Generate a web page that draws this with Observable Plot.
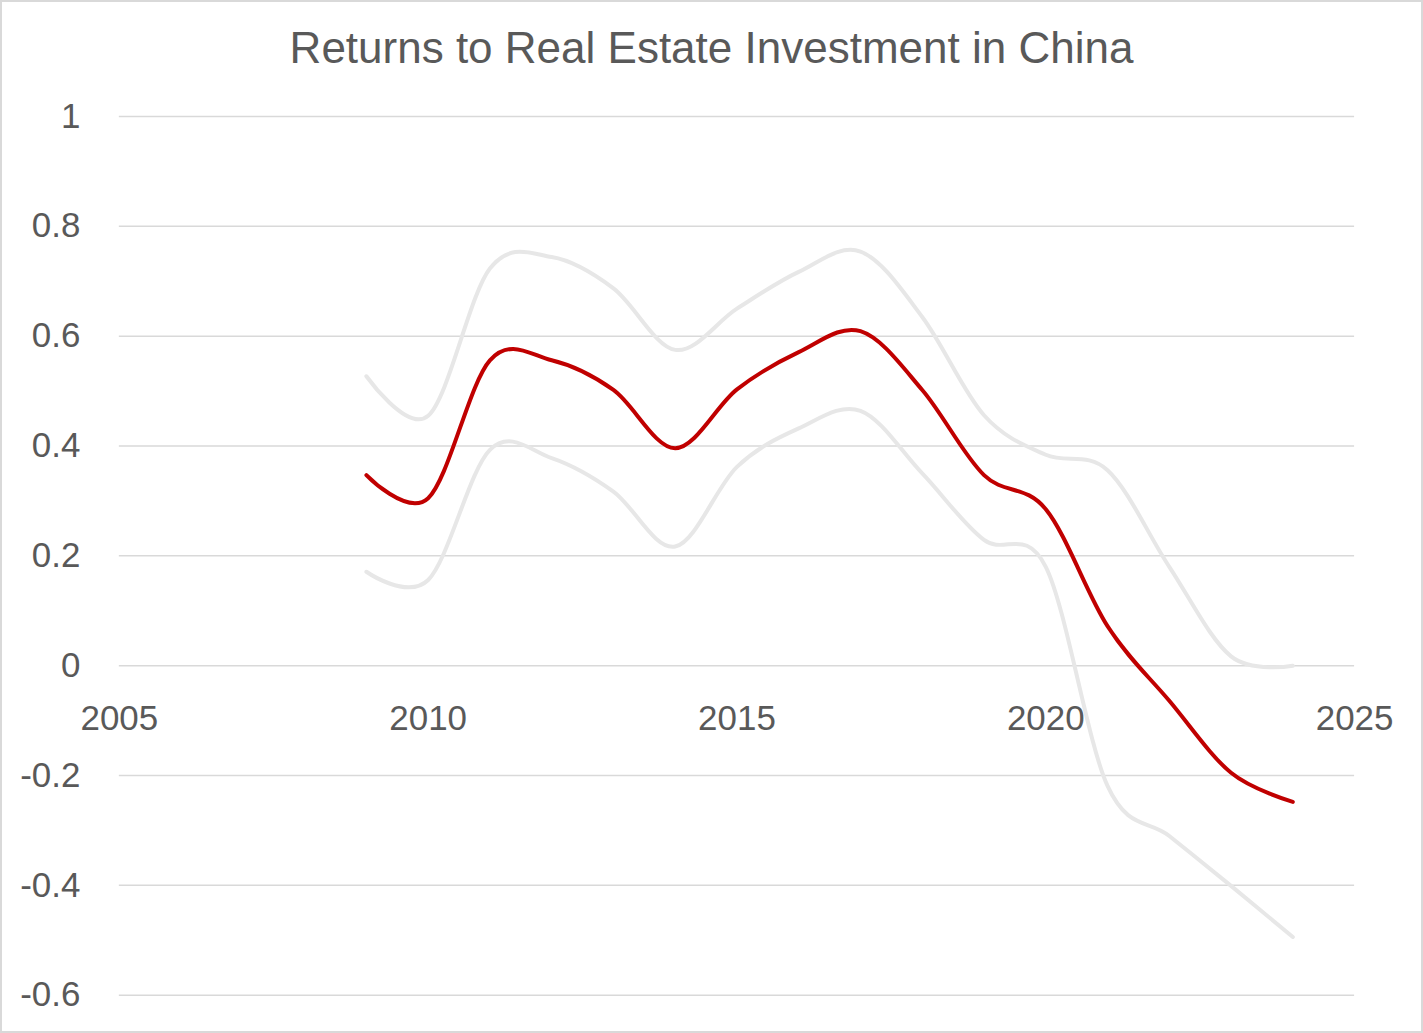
<!DOCTYPE html>
<html>
<head>
<meta charset="utf-8">
<script src="https://cdn.jsdelivr.net/npm/d3@7"></script>
<script src="https://cdn.jsdelivr.net/npm/@observablehq/plot@0.6"></script>
<style>
  html, body { margin: 0; padding: 0; background: #fff; }
  #frame {
    position: absolute; left: 0; top: 0; width: 1423px; height: 1033px;
    box-sizing: border-box; border: 2px solid #d9d9d9; background: #fff; overflow: hidden;
  }
  #title {
    position: absolute; left: -2px; top: 24px; width: 1423px; text-align: center;
    font-family: "Liberation Sans", Arial, sans-serif; font-size: 44px; line-height: 44px;
    color: #595959;
  }
  #chart { position: absolute; left: -2px; top: 86px; }
</style>
</head>
<body>
<div id="frame">
  <div id="title">Returns to Real Estate Investment in China</div>
  <div id="chart"></div>
</div>
<script>
const years = [2009, 2010, 2011, 2012, 2013, 2014, 2015, 2016, 2017, 2018, 2019, 2020, 2021, 2022, 2023, 2024];
const returns = [0.347, 0.305, 0.556, 0.556, 0.502, 0.396, 0.503, 0.571, 0.609, 0.502, 0.347, 0.285, 0.072, -0.064, -0.195, -0.248];
const upper = [0.527, 0.455, 0.723, 0.744, 0.687, 0.575, 0.650, 0.717, 0.754, 0.635, 0.456, 0.384, 0.356, 0.180, 0.017, 0.0];
const lower = [0.171, 0.156, 0.393, 0.378, 0.317, 0.217, 0.362, 0.432, 0.464, 0.350, 0.229, 0.180, -0.219, -0.310, -0.401, -0.494];
const yTicks = [-0.6, -0.4, -0.2, 0, 0.2, 0.4, 0.6, 0.8, 1];
const xTicks = [2005, 2010, 2015, 2020, 2025];

const toRows = (vals) => years.map((yr, i) => ({year: yr, value: vals[i]}));
const fmt = (d) => String(Math.round(d * 10) / 10);

const W = 1423, H = 945;
const plot = Plot.plot({
  width: W,
  height: H,
  marginLeft: 119,
  marginRight: 67,
  marginTop: 28,
  marginBottom: 37,
  style: {fontFamily: "'Liberation Sans', Arial, sans-serif", background: "transparent", overflow: "visible"},
  x: {domain: [2005, 2025], axis: null},
  y: {domain: [-0.6, 1], axis: null},
  marks: [
    Plot.ruleY(yTicks, {x1: 2005, x2: 2025, stroke: "#d9d9d9", strokeWidth: 1.5}),
    Plot.text(yTicks, {x: 2005, y: d => d, text: fmt, textAnchor: "end", dx: -39, fontSize: 35, fill: "#595959"}),
    Plot.text(xTicks, {x: d => d, y: 0, text: d => String(d), textAnchor: "middle", dy: 53.5, fontSize: 35, fill: "#595959"}),
    Plot.line(toRows(upper), {x: "year", y: "value", stroke: "#e7e7e7", strokeWidth: 4, curve: "cardinal", tension: 0}),
    Plot.line(toRows(lower), {x: "year", y: "value", stroke: "#e7e7e7", strokeWidth: 4, curve: "cardinal", tension: 0}),
    Plot.line(toRows(returns), {x: "year", y: "value", stroke: "#c00000", strokeWidth: 4, curve: "cardinal", tension: 0})
  ]
});
document.getElementById("chart").appendChild(plot);
</script>
</body>
</html>
